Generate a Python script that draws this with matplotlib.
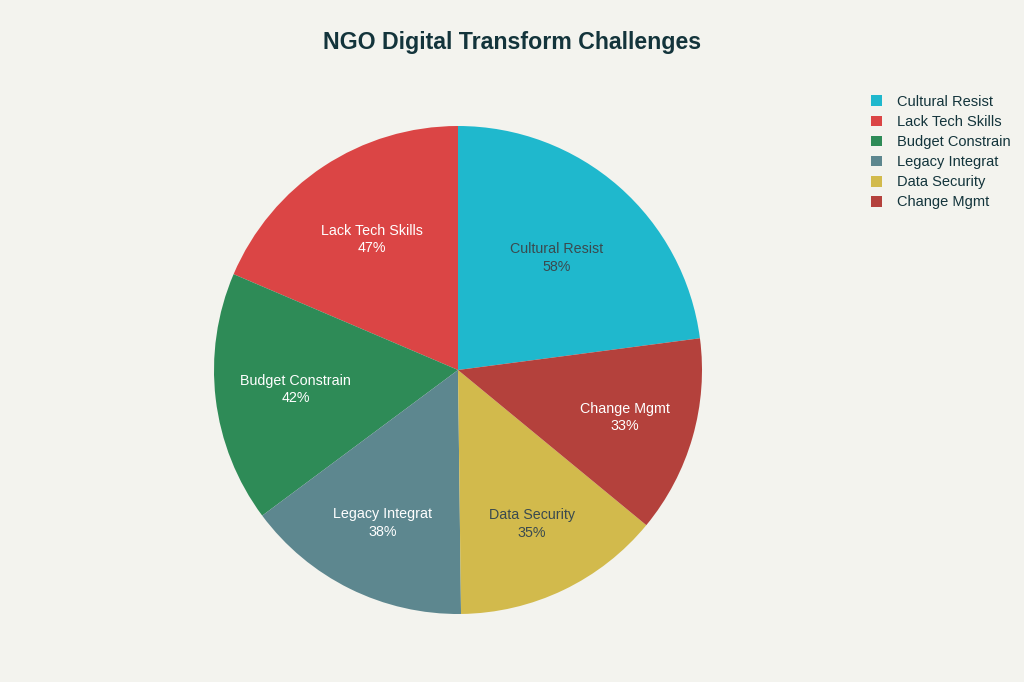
import numpy as np
import matplotlib
matplotlib.use('Agg')
import matplotlib.pyplot as plt

categories = ['Cultural Resist', 'Lack Tech Skills', 'Budget Constrain',
              'Legacy Integrat', 'Data Security', 'Change Mgmt']
values = [58, 47, 42, 38, 35, 33]
colors = ['#1FB8CD', '#DB4545', '#2E8B57', '#5D878F', '#D2BA4C', '#B4413C']
text_colors = ['#3a4a4f', 'white', 'white', 'white', '#3a4a4f', 'white']
label_r = [0.61, 0.64, 0.67, 0.70, 0.70, 0.71]

bg = '#F3F3EE'
plt.rcParams['font.family'] = ['Liberation Sans', 'DejaVu Sans']

fig = plt.figure(figsize=(10.24, 6.82), dpi=100, facecolor=bg)
cx, cy, R = 458, 370, 244
ax = fig.add_axes([(cx - R) / 1024, (682 - cy - R) / 682, 2 * R / 1024, 2 * R / 682])
ax.set_facecolor(bg)

start = 90 - 360 * values[0] / sum(values)
wedges, _ = ax.pie(values, colors=colors, startangle=start, counterclock=True,
                   radius=1.0, wedgeprops=dict(linewidth=0))
ax.set_aspect('equal')
ax.set_xlim(-1, 1)
ax.set_ylim(-1, 1)

for w, name, v, tc, r in zip(wedges, categories, values, text_colors, label_r):
    mid = np.deg2rad((w.theta1 + w.theta2) / 2)
    ax.text(r * np.cos(mid), r * np.sin(mid), name + '\n' + str(v) + '%',
            ha='center', va='center', fontsize=10.3, color=tc, linespacing=1.3)

fig.text(512 / 1024, 1 - 43 / 682, 'NGO Digital Transform Challenges',
         ha='center', va='center', fontsize=16.7, fontweight='bold', color='#13343B')

leg = fig.legend(wedges, categories, loc='upper left',
                 bbox_to_anchor=(865 / 1024, 1 - 89 / 682), frameon=False,
                 fontsize=10.5, handlelength=0.75, handleheight=0.75,
                 handletextpad=1.05, labelspacing=0.42, borderaxespad=0)
for t in leg.get_texts():
    t.set_color('#13343B')

fig.savefig('out.png', dpi=100, facecolor=bg)
